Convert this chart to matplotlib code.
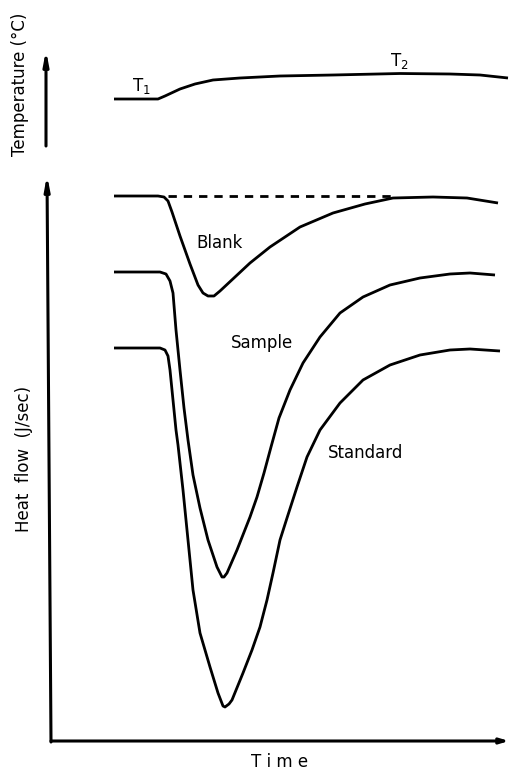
import matplotlib
matplotlib.use("Agg")
import matplotlib.pyplot as plt

# all values, in pixel units (y grows downward)
temp_x = [114, 158, 165, 180, 195, 213, 240, 280, 333, 400, 450, 480, 508]
temp_y = [99, 99, 96, 89, 84, 80, 78, 76, 75, 73.5, 74, 75, 78]

blank_x = [114, 158, 164, 168, 172, 180, 190, 198, 203, 208, 214, 220, 235, 250,
           270, 300, 333, 365, 393, 433, 467, 498]
blank_y = [196, 196, 197, 201, 212, 236, 264, 285, 293, 296, 296, 291, 277, 263,
           247, 227, 213, 204, 198, 197, 198, 203]

sample_x = [114, 160, 166, 170, 173, 176, 180, 184, 188, 193, 200, 208, 217, 222,
            224, 227, 237, 250, 257, 264, 271, 279, 290, 303, 320, 340, 363, 390,
            420, 450, 470, 495]
sample_y = [272, 272, 274, 281, 293, 330, 370, 408, 440, 475, 508, 540, 567, 577,
            577, 573, 550, 517, 497, 473, 447, 418, 390, 363, 337, 313, 297, 285,
            278, 274, 273, 275]

standard_x = [114, 160, 165, 168, 170, 173, 176, 178, 183, 188, 193, 200, 210, 218,
              223, 225, 229, 232, 243, 252, 260, 267, 273, 280, 287, 297, 307, 320,
              340, 363, 390, 420, 450, 470, 500]
standard_y = [348, 348, 350, 356, 370, 400, 430, 445, 490, 540, 590, 633, 667, 693,
              706, 707, 704, 700, 673, 650, 627, 600, 573, 540, 518, 487, 457, 430,
              403, 380, 365, 355, 350, 349, 351]

baseline_x = [168, 395]
baseline_y = [196, 196]

curve_labels = ["Blank", "Sample", "Standard"]
label_pos = [(220, 243), (262, 343), (366, 453)]

plt.rcParams['font.family'] = ['DejaVu Sans']
plt.rcParams['mathtext.fontset'] = 'dejavusans'

fig = plt.figure(figsize=(5.1, 7.73), dpi=100)
ax = fig.add_axes([0, 0, 1, 1])
ax.set_xlim(0, 510)
ax.set_ylim(773, 0)
ax.axis('off')

lw = 2.0
for xs, ys in [(temp_x, temp_y), (blank_x, blank_y),
               (sample_x, sample_y), (standard_x, standard_y)]:
    ax.plot(xs, ys, color='black', lw=lw, solid_joinstyle='round',
            solid_capstyle='butt')
ax.plot(baseline_x, baseline_y, color='black', lw=lw, ls=(0, (3, 2.5)))

for name, (lx, ly) in zip(curve_labels, label_pos):
    ax.text(lx, ly, name, fontsize=12, ha='center', va='center')

ax.text(141, 86, 'T$_1$', fontsize=12, ha='center', va='center')
ax.text(399, 61, 'T$_2$', fontsize=12, ha='center', va='center')

# axes drawn as arrows
arrow = dict(arrowstyle='-|>,head_length=0.8,head_width=0.15', color='black', lw=2.2,
             shrinkA=0, shrinkB=0)
ax.annotate('', xy=(46, 50), xytext=(46, 146), arrowprops=arrow)
ax.annotate('', xy=(47, 175), xytext=(51, 742), arrowprops=arrow)
ax.annotate('', xy=(509, 741), xytext=(51, 741),
            arrowprops=dict(arrowstyle='-|>,head_length=0.5,head_width=0.15',
                            color='black', lw=2.2, shrinkA=0, shrinkB=0))

ax.text(20, 84, 'Temperature (°C)', fontsize=12, rotation=90, ha='center', va='center')
ax.text(24, 459, 'Heat  flow  (J/sec)', fontsize=12, rotation=90, ha='center', va='center')
ax.text(280, 762, 'T i m e', fontsize=12, ha='center', va='center')

fig.savefig('out.png', dpi=100)
